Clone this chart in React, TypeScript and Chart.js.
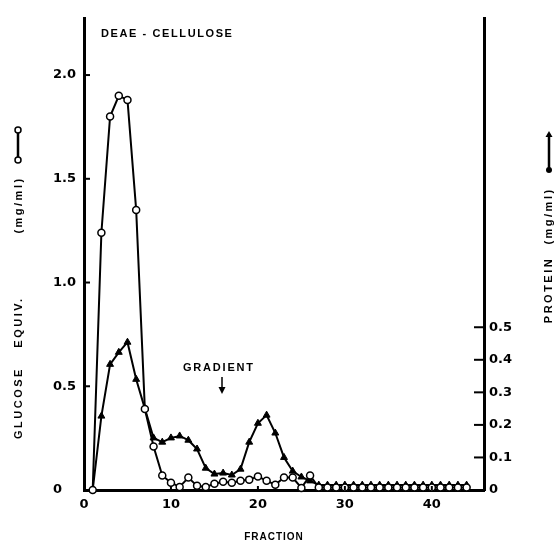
import React, { useEffect, useRef } from 'react';
import { Chart, registerables } from 'chart.js';

Chart.register(...registerables);

const fractions = [1, 2, 3, 4, 5, 6, 7, 8, 9, 10, 11, 12, 13, 14, 15, 16, 17, 18, 19, 20, 21, 22, 23, 24, 25, 26, 27, 28, 29, 30, 31, 32, 33, 34, 35, 36, 37, 38, 39, 40, 41, 42, 43, 44];

const glucose = [0, 1.24, 1.8, 1.9, 1.88, 1.35, 0.39, 0.21, 0.07, 0.035, 0.015, 0.06, 0.02, 0.015, 0.03, 0.04, 0.035, 0.045, 0.05, 0.065, 0.045, 0.025, 0.06, 0.06, 0.01, 0.07, 0.012, 0.012, 0.012, 0.012, 0.012, 0.012, 0.012, 0.012, 0.012, 0.012, 0.012, 0.012, 0.012, 0.012, 0.012, 0.012, 0.012, 0.012];

const protein = [0, 0.227, 0.386, 0.423, 0.454, 0.34, 0.25, 0.16, 0.147, 0.16, 0.166, 0.153, 0.126, 0.067, 0.049, 0.052, 0.046, 0.064, 0.147, 0.205, 0.23, 0.175, 0.1, 0.058, 0.04, 0.028, 0.015, 0.015, 0.015, 0.015, 0.015, 0.015, 0.015, 0.015, 0.015, 0.015, 0.015, 0.015, 0.015, 0.015, 0.015, 0.015, 0.015, 0.015];

const glucoseTicks = [0, 0.5, 1.0, 1.5, 2.0];
const proteinTicks = [0, 0.1, 0.2, 0.3, 0.4, 0.5];
const fractionTicks = [0, 10, 20, 30, 40];

const tickFont = { family: 'DejaVu Sans', size: 13, weight: 'bold' };

const fmt = (v: number) => (v === 0 ? '0' : v.toFixed(1));

const annotations = {
  id: 'annotations',
  afterDraw(chart: any) {
    const ctx = chart.ctx as CanvasRenderingContext2D;
    const { x, y, y1 } = chart.scales;
    ctx.save();
    ctx.setLineDash([]);
    ctx.strokeStyle = '#000';
    ctx.fillStyle = '#000';

    // legend symbols
    ctx.lineWidth = 2.5;
    ctx.lineCap = 'butt';
    ctx.beginPath();
    ctx.moveTo(18, 131);
    ctx.lineTo(18, 159);
    ctx.moveTo(549, 134);
    ctx.lineTo(549, 170);
    ctx.stroke();
    ctx.lineWidth = 1.5;
    [130, 160].forEach((py) => {
      ctx.beginPath();
      ctx.arc(18, py, 3, 0, Math.PI * 2);
      ctx.fillStyle = '#fff';
      ctx.fill();
      ctx.stroke();
    });
    ctx.fillStyle = '#000';
    ctx.beginPath();
    ctx.moveTo(545.5, 137);
    ctx.lineTo(552.5, 137);
    ctx.lineTo(549, 131);
    ctx.closePath();
    ctx.fill();
    ctx.beginPath();
    ctx.arc(549, 170, 3, 0, Math.PI * 2);
    ctx.fill();

    // inward ticks
    glucoseTicks.forEach((v) => {
      const py = y.getPixelForValue(v);
      ctx.fillRect(x.left, py - 1, 6, 2);
    });
    proteinTicks.forEach((v) => {
      const py = y1.getPixelForValue(v);
      ctx.fillRect(x.right - 10, py - 1, 10, 2);
    });
    fractionTicks.forEach((v) => {
      if (v === 0) return;
      const px = x.getPixelForValue(v);
      ctx.fillRect(px - 1, y.bottom - 4, 2, 4);
    });

    // gradient arrow
    ctx.fillRect(221.25, 377, 1.5, 12);
    ctx.beginPath();
    ctx.moveTo(218.5, 387);
    ctx.lineTo(225.5, 387);
    ctx.lineTo(222, 394);
    ctx.closePath();
    ctx.fill();

    // text labels
    ctx.textBaseline = 'middle';
    ctx.font = 'bold 11px "Liberation Sans"';
    (ctx as any).letterSpacing = '1.6px';
    ctx.textAlign = 'left';
    ctx.fillText('DEAE - CELLULOSE', 101, 34);
    (ctx as any).letterSpacing = '1.8px';
    ctx.fillText('GRADIENT', 183, 368);
    (ctx as any).letterSpacing = '1px';
    ctx.textAlign = 'center';
    ctx.font = 'bold 10px "Liberation Sans"';
    ctx.fillText('FRACTION', 274, 537);

    // rotated titles
    ctx.font = 'bold 11px "Liberation Sans"';
    (ctx as any).letterSpacing = '2.5px';
    const vtext = (t: string, cx: number, cy: number) => {
      ctx.save();
      ctx.translate(cx, cy);
      ctx.rotate(-Math.PI / 2);
      ctx.fillText(t, 0, 0);
      ctx.restore();
    };
    vtext('GLUCOSE', 19, 403);
    vtext('EQUIV.', 19, 322);
    vtext('(mg/ml)', 19, 205);
    vtext('(mg/ml)', 549, 216);
    vtext('PROTEIN', 549, 290);
    ctx.restore();
  },
};

export default function App() {
  const ref = useRef<HTMLCanvasElement>(null);
  useEffect(() => {
    if (!ref.current) return;
    const chart = new Chart(ref.current, {
      type: 'line',
      data: {
        datasets: [
          {
            label: 'Glucose equiv. (mg/ml)',
            data: fractions.map((f, i) => ({ x: f, y: glucose[i] })),
            yAxisID: 'y',
            borderColor: '#000',
            borderWidth: 2,
            backgroundColor: '#fff',
            pointBackgroundColor: '#fff',
            pointBorderColor: '#000',
            pointBorderWidth: 1.5,
            pointRadius: 3.5,
            pointStyle: 'circle',
            tension: 0,
            clip: false,
            order: 0,
          },
          {
            label: 'Protein (mg/ml)',
            data: fractions.map((f, i) => ({ x: f, y: protein[i] })),
            yAxisID: 'y1',
            borderColor: '#000',
            borderWidth: 2,
            backgroundColor: '#000',
            pointBackgroundColor: '#000',
            pointBorderColor: '#000',
            pointBorderWidth: 1,
            pointRadius: 4,
            pointStyle: 'triangle',
            tension: 0,
            clip: false,
            order: 1,
          },
        ],
      },
      options: {
        responsive: false,
        animation: false,
        devicePixelRatio: 1,
        layout: { padding: { left: 53, top: 18, right: 0, bottom: 0 } },
        plugins: { legend: { display: false }, tooltip: { enabled: false }, title: { display: false } },
        scales: {
          x: {
            type: 'linear',
            min: 0,
            max: 46,
            afterBuildTicks: (s: any) => {
              s.ticks = fractionTicks.map((v) => ({ value: v }));
            },
            afterFit: (s: any) => {
              s.height = 55;
            },
            grid: { display: false, drawTicks: false },
            border: { display: true, width: 3, color: '#000' },
            ticks: { padding: 7, color: '#000', font: tickFont, maxRotation: 0, autoSkip: false, callback: (v: any) => String(v) },
          },
          y: {
            position: 'left',
            min: 0,
            max: 2.275,
            afterBuildTicks: (s: any) => {
              s.ticks = glucoseTicks.map((v) => ({ value: v }));
            },
            afterFit: (s: any) => {
              s.width = 31;
            },
            grid: { display: false, drawTicks: false },
            border: { display: true, width: 3, color: '#000' },
            ticks: { crossAlign: 'far', color: '#000', font: tickFont, callback: (v: any) => fmt(Number(v)) },
          },
          y1: {
            position: 'right',
            min: 0,
            max: 1.45,
            afterBuildTicks: (s: any) => {
              s.ticks = proteinTicks.map((v) => ({ value: v }));
            },
            afterFit: (s: any) => {
              s.width = 70;
            },
            grid: { display: false, drawTicks: false },
            border: { display: true, width: 3, color: '#000' },
            ticks: { padding: 5, color: '#000', font: tickFont, callback: (v: any) => fmt(Number(v)) },
          },
        },
      },
      plugins: [annotations],
    } as any);
    return () => chart.destroy();
  }, []);
  return (
    <div style={{ position: 'absolute', left: 0, top: 0, width: 554, height: 545, background: '#fff' }}>
      <canvas ref={ref} width={554} height={545} style={{ width: 554, height: 545, display: 'block' }} />
    </div>
  );
}
